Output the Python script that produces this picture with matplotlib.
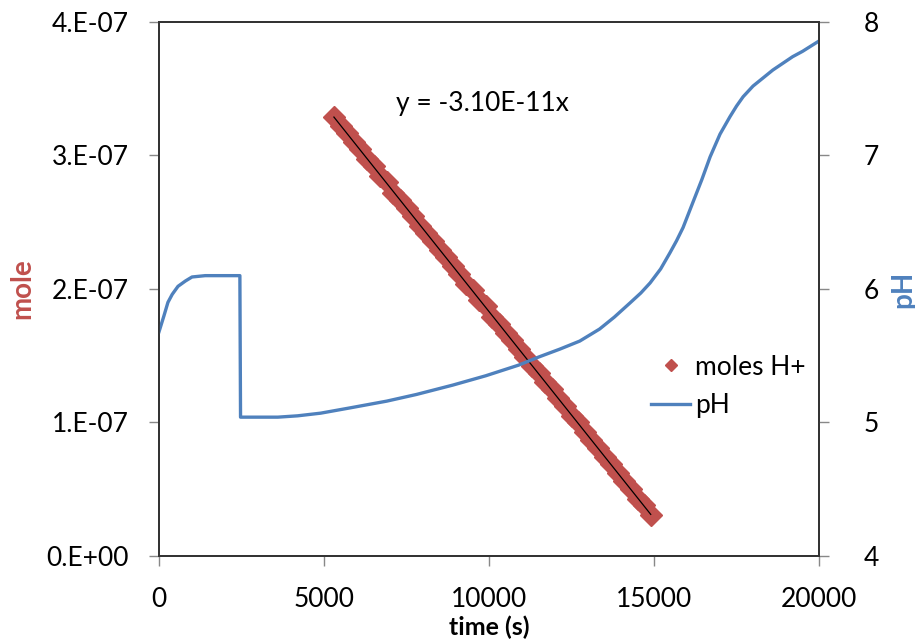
import numpy as np
import matplotlib
matplotlib.use("Agg")
import matplotlib.pyplot as plt

plt.rcParams['font.family'] = ['Lato', 'DejaVu Sans']

# moles H+, units of 1e-7 mol
t_h = [5300, 5500, 5700, 5900, 6100, 6300, 6500, 6700, 6900, 7100,
       7300, 7500, 7700, 7900, 8100, 8300, 8500, 8700, 8900, 9100,
       9300, 9500, 9700, 9900, 10100, 10300, 10500, 10700, 10900, 11100,
       11300, 11500, 11700, 11900, 12100, 12300, 12500, 12700, 12900, 13100,
       13300, 13500, 13700, 13900, 14100, 14300, 14500, 14700, 14900]
mole_h = [3.29, 3.22, 3.17, 3.10, 3.05, 2.97, 2.92, 2.85, 2.80, 2.72,
          2.67, 2.61, 2.55, 2.47, 2.42, 2.36, 2.29, 2.24, 2.17, 2.11,
          2.04, 1.99, 1.92, 1.87, 1.79, 1.74, 1.67, 1.62, 1.55, 1.49,
          1.42, 1.37, 1.30, 1.25, 1.18, 1.12, 1.05, 1.00, 0.93, 0.87,
          0.81, 0.74, 0.69, 0.62, 0.56, 0.50, 0.43, 0.38, 0.31]

# pH curve
t_ph = [0, 150, 270, 400, 575, 800, 1000, 1400, 1900, 2450,
        2470, 3000, 3600, 4200, 4900, 5800, 6900, 7800, 8900, 9900,
        10900, 11500, 12150, 12750, 13350, 13800, 14270, 14600, 14880, 15200,
        15480, 15680, 15880, 16180, 16450, 16700, 17000, 17300, 17500, 17700,
        18000, 18300, 18600, 18900, 19200, 19500, 19950]
ph = [5.68, 5.80, 5.90, 5.96, 6.02, 6.06, 6.09, 6.10, 6.10, 6.10,
      5.04, 5.04, 5.04, 5.05, 5.07, 5.11, 5.16, 5.21, 5.28, 5.35,
      5.43, 5.49, 5.55, 5.61, 5.70, 5.79, 5.895, 5.97, 6.045, 6.15,
      6.27, 6.36, 6.46, 6.65, 6.82, 6.99, 7.16, 7.29, 7.37, 7.44,
      7.52, 7.58, 7.64, 7.69, 7.74, 7.78, 7.85]

eq_text = "y = -3.10E-11x"
red = "#C0504D"
blue = "#4F81BD"

t_h = np.array(t_h)
mole_h = np.array(mole_h) * 1e-7

fig = plt.figure(figsize=(9.15, 6.43), dpi=100)
ax = fig.add_axes([0.1738, 0.1353, 0.7213, 0.8305])
ax2 = ax.twinx()

ax.plot(t_h, mole_h, ls="none", marker="D", ms=11, color=red, mec=red,
        label="moles H+", zorder=3)
p = np.polyfit(t_h, mole_h, 1)
ax.plot([t_h[0], t_h[-1]], np.polyval(p, [t_h[0], t_h[-1]]), color="black",
        lw=0.9, zorder=4)

ax2.plot(t_ph, ph, color=blue, lw=2.4, label="pH")

ax.set_xlim(0, 20000)
ax.set_ylim(0, 4e-7)
ax2.set_ylim(4, 8)
ax.set_xticks([0, 5000, 10000, 15000, 20000])
ax.set_yticks([0, 1e-7, 2e-7, 3e-7, 4e-7])
ax.set_yticklabels(["0.E+00", "1.E-07", "2.E-07", "3.E-07", "4.E-07"])
ax2.set_yticks([4, 5, 6, 7, 8])

for a in (ax, ax2):
    a.tick_params(direction="out", length=7, width=1, color="#888888",
                  labelsize=19)
    for s in a.spines.values():
        s.set_color("#333333")
        s.set_linewidth(1.3)
ax.tick_params(axis="x", pad=15)
ax.tick_params(axis="y", pad=15)
ax2.tick_params(axis="y", pad=25)

ax.set_xlabel("time (s)", fontsize=18, fontweight="bold", va="top")
ax.xaxis.set_label_coords(0.5, -0.112)
ax.set_ylabel("mole", fontsize=20, fontweight="bold", color=red, labelpad=8)
ax2.set_ylabel("pH", fontsize=20, fontweight="bold", color=blue,
               rotation=90, labelpad=8)

ax.text(0.49, 0.848, eq_text, transform=ax.transAxes, fontsize=19,
        ha="center", va="center")

h1, l1 = ax.get_legend_handles_labels()
h2, l2 = ax2.get_legend_handles_labels()
leg = ax2.legend(h1 + h2, l1 + l2, loc="center left",
                 bbox_to_anchor=(0.73, 0.318), frameon=False, fontsize=19,
                 handlelength=1.45, handletextpad=0.2, labelspacing=0.5,
                 markerscale=0.6, borderaxespad=0)

fig.savefig("out.png", dpi=100)
